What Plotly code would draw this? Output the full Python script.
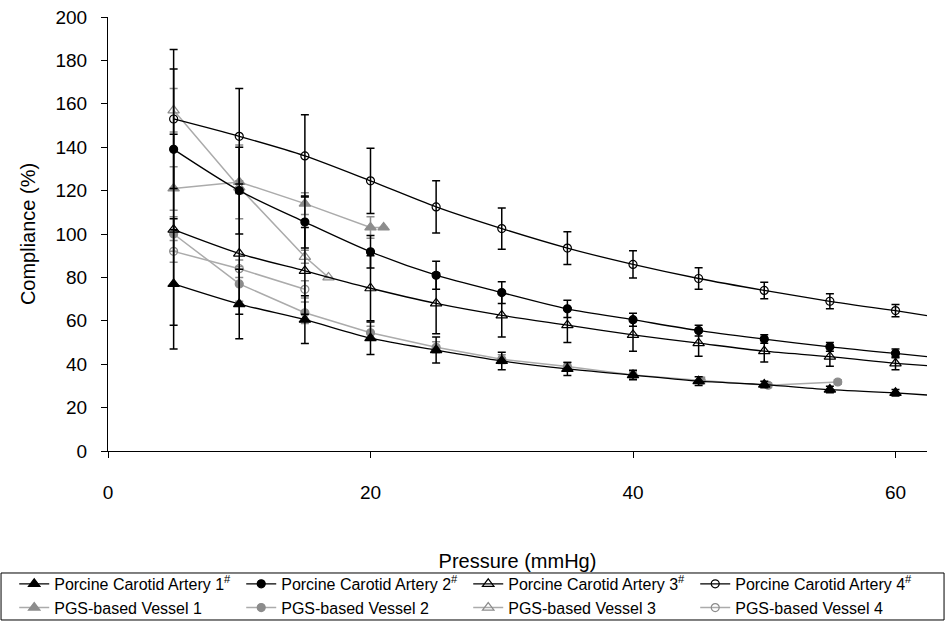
import plotly.graph_objects as go

# Pressure steps (mmHg) and compliance (%) for the four porcine carotid arteries
pressure = [5, 10, 15, 20, 25, 30, 35, 40, 45, 50, 55, 60]

artery1 = [77, 67.7, 60.5, 52, 46.5, 41.5, 37.8, 35, 32.2, 30.6, 28.3, 26.8]
artery1_err = [30, 16, 11, 7.5, 6, 4, 3, 2.2, 2, 1.5, 1.5, 1.5]
artery2 = [139, 120, 105.5, 91.8, 81, 73, 65.5, 60.5, 55.5, 51.6, 48, 45]
artery2_err = [37, 20, 12, 7.5, 6.5, 5, 4, 3, 2.5, 2, 2, 2]
artery3 = [102, 91, 83, 75, 68, 62.5, 58, 53.5, 49.7, 46, 43.5, 40.4]
artery3_err = [44, 28, 20, 15, 14, 10, 8, 7.5, 6, 5, 4.5, 3]
artery4 = [153, 145, 136, 124.5, 112.5, 102.5, 93.5, 86, 79.5, 74, 69, 64.7]
artery4_err = [32, 22, 19, 15, 12, 9.5, 7.5, 6.3, 5, 3.8, 3.5, 2.8]

# Where each fitted artery curve meets the right edge of the axis
curve_end_x = 62.4
artery_curve_end = [25.8, 43.5, 39.3, 62.4]

# PGS-based vessels
pgs1_x = [5, 10, 15, 20, 21]
pgs1 = [121, 124, 114, 103, 103]
pgs1_err = [10, 17, 5, 5, 0]
pgs2_x = [5, 10, 15, 20, 25, 30, 35, 40, 45.2, 50.3, 55.6]
pgs2 = [100, 77, 63.7, 54.5, 47.8, 42.3, 38.9, 35, 32.5, 30.3, 31.8]
pgs2_err = [8, 8, 5, 3, 2.5, 2, 2, 1.5, 1.5, 1, 1]
pgs3_x = [5, 10, 15, 16.8]
pgs3 = [157, 121.5, 89.5, 80]
pgs3_err = [10, 3, 3, 0]
pgs4_x = [5, 10, 15]
pgs4 = [92, 84, 74.5]
pgs4_err = [5, 4, 4]

x_ticks = [0, 20, 40, 60]
y_ticks = [0, 20, 40, 60, 80, 100, 120, 140, 160, 180, 200]

FONT = "Arial, Liberation Sans, sans-serif"
BLACK = "#000000"
GREY_MARK = "#8c8c8c"
GREY_LINE = "#ababab"

fig = go.Figure()

pgs_series = [
    ("PGS-based Vessel 1", pgs1_x, pgs1, pgs1_err, "triangle-up", 10),
    ("PGS-based Vessel 2", pgs2_x, pgs2, pgs2_err, "circle", 8),
    ("PGS-based Vessel 3", pgs3_x, pgs3, pgs3_err, "triangle-up-open", 10),
    ("PGS-based Vessel 4", pgs4_x, pgs4, pgs4_err, "circle-open", 8),
]
for rank, (name, xs, ys, err, sym, size) in enumerate(pgs_series, start=5):
    fig.add_trace(go.Scatter(
        x=xs, y=ys, name=name, mode="lines+markers", legendrank=rank,
        line=dict(color=GREY_LINE, width=1.5),
        marker=dict(symbol=sym, size=size, color=GREY_MARK,
                    line=dict(color=GREY_MARK, width=1.2)),
        error_y=dict(type="data", array=err, symmetric=True,
                     color=GREY_MARK, thickness=1.5, width=4),
    ))

artery_series = [
    ("Porcine Carotid Artery 1<sup>#</sup>", artery1, artery1_err, "triangle-up", 10),
    ("Porcine Carotid Artery 2<sup>#</sup>", artery2, artery2_err, "circle", 8),
    ("Porcine Carotid Artery 3<sup>#</sup>", artery3, artery3_err, "triangle-up-open", 10),
    ("Porcine Carotid Artery 4<sup>#</sup>", artery4, artery4_err, "circle-open", 8),
]
for rank, ((name, ys, err, sym, size), end_y) in enumerate(
        zip(artery_series, artery_curve_end), start=1):
    # continuation of the fitted curve beyond the last measurement
    fig.add_trace(go.Scatter(
        x=[pressure[-1], curve_end_x], y=[ys[-1], end_y], mode="lines",
        showlegend=False, hoverinfo="skip",
        line=dict(color=BLACK, width=1.3),
    ))
    fig.add_trace(go.Scatter(
        x=pressure, y=ys, name=name, mode="lines+markers", legendrank=rank,
        line=dict(color=BLACK, width=1.3, shape="spline", smoothing=0.8),
        marker=dict(symbol=sym, size=size, color=BLACK,
                    line=dict(color=BLACK, width=1.2)),
        error_y=dict(type="data", array=err, symmetric=True,
                     color=BLACK, thickness=1.5, width=4),
    ))

# Frame around the legend
fig.add_shape(type="rect", xref="paper", yref="paper",
              x0=-0.1306, x1=1.0208, y0=-0.3894, y1=-0.2811,
              line=dict(color=BLACK, width=1), fillcolor="rgba(0,0,0,0)")

fig.update_layout(
    width=946, height=623,
    margin=dict(l=108, r=19, t=17, b=172, autoexpand=False),
    paper_bgcolor="white", plot_bgcolor="white",
    font=dict(family=FONT, color=BLACK),
    legend=dict(
        orientation="h", x=-0.1145, y=-0.267, xanchor="left", yanchor="top",
        entrywidth=182, entrywidthmode="pixels",
        font=dict(family=FONT, size=16, color=BLACK),
        bgcolor="rgba(0,0,0,0)", borderwidth=0,
        tracegroupgap=0, itemwidth=30,
    ),
    xaxis=dict(
        range=[0, 62.4], tickvals=x_ticks, ticktext=[str(v) for v in x_ticks],
        showgrid=False, zeroline=False, showline=True, linecolor=BLACK, linewidth=1,
        ticks="outside", ticklen=6, tickcolor=BLACK, ticklabelstandoff=18,
        tickfont=dict(family=FONT, size=19, color=BLACK), automargin=False,
        title=dict(text="Pressure (mmHg)", standoff=52,
                   font=dict(family=FONT, size=20, color=BLACK)),
    ),
    yaxis=dict(
        range=[0, 200], tickvals=y_ticks, ticktext=[str(v) for v in y_ticks],
        showgrid=False, zeroline=False, showline=True, linecolor=BLACK, linewidth=1,
        ticks="outside", ticklen=6, tickcolor=BLACK, ticklabelstandoff=10,
        tickfont=dict(family=FONT, size=19, color=BLACK), automargin=False,
        title=dict(text="Compliance (%)", standoff=14,
                   font=dict(family=FONT, size=20, color=BLACK)),
    ),
)

fig.write_html("out.html")
